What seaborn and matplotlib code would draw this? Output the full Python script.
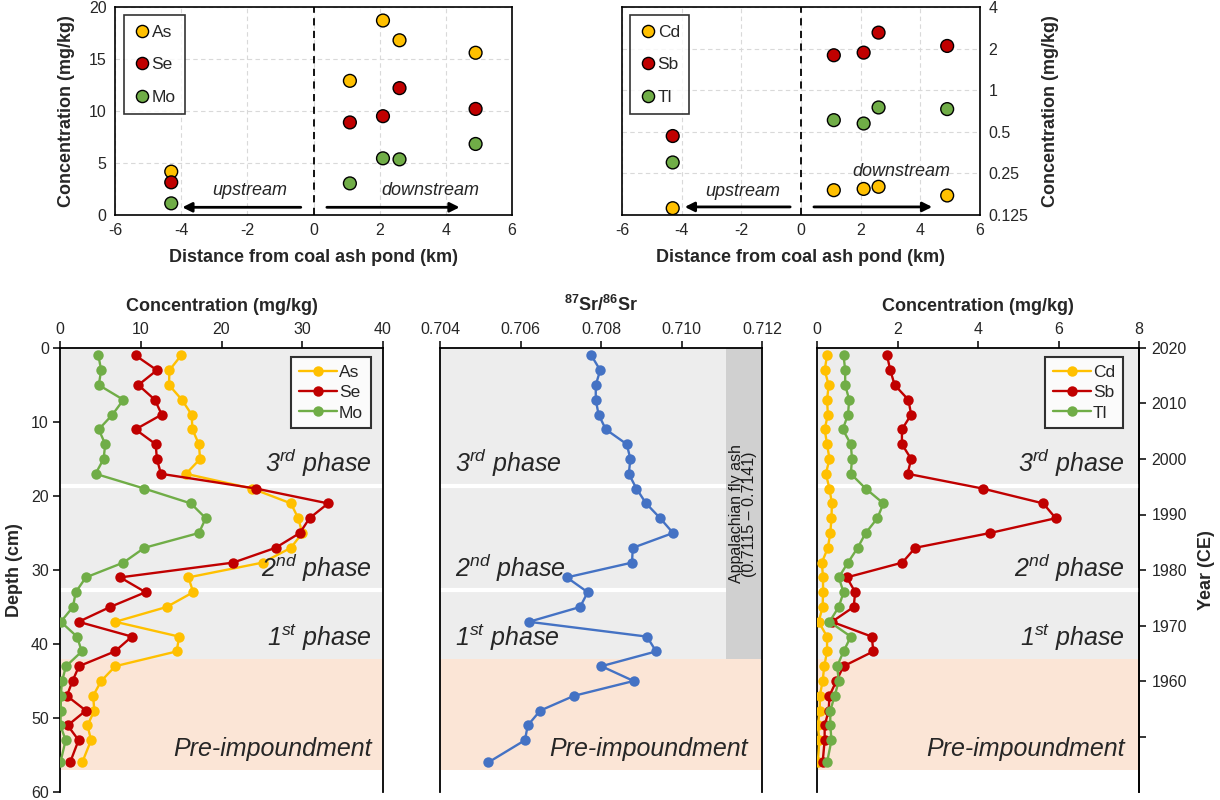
import matplotlib
matplotlib.use('Agg')
import matplotlib.pyplot as plt
import seaborn as sns
import numpy as np
import pandas as pd

sns.set_style('white')
plt.rcParams['font.family'] = ['Liberation Sans', 'DejaVu Sans']
plt.rcParams['mathtext.fontset'] = 'custom'
plt.rcParams['mathtext.rm'] = 'Liberation Sans'
plt.rcParams['mathtext.it'] = 'Liberation Sans:italic'
plt.rcParams['mathtext.bf'] = 'Liberation Sans:bold'
plt.rcParams['axes.unicode_minus'] = False

# ---------------- data ----------------
distance_km = [-4.3, 1.1, 2.1, 2.6, 4.9]
surf_as = [4.17, 12.9, 18.7, 16.8, 15.6]
surf_se = [3.14, 8.9, 9.5, 12.2, 10.2]
surf_mo = [1.12, 3.04, 5.45, 5.35, 6.83]
surf_cd = [0.140, 0.189, 0.193, 0.200, 0.173]
surf_sb = [0.466, 1.79, 1.87, 2.61, 2.09]
surf_tl = [0.30, 0.607, 0.574, 0.75, 0.73]

depth_cm = [1, 3, 5, 7, 9, 11, 13, 15, 17, 19, 21, 23, 25, 27, 29, 31, 33, 35,
            37, 39, 41, 43, 45, 47, 49, 51, 53, 56]
core_as = [15.0, 13.55, 13.5, 15.1, 16.3, 16.4, 17.2, 17.35, 15.6, 23.8,
           28.6, 29.5, 30.0, 28.6, 25.1, 15.9, 16.5, 13.2, 6.85, 14.75,
           14.45, 6.85, 5.1, 4.1, 4.25, 3.4, 3.85, 2.75]
core_se = [9.35, 12.0, 9.7, 11.75, 12.6, 9.35, 11.85, 12.0, 12.5, 24.3,
           33.2, 30.9, 29.7, 26.7, 21.45, 7.45, 10.6, 6.2, 2.3, 8.9,
           6.8, 2.35, 1.55, 0.85, 3.2, 0.95, 2.3, 1.25]
core_mo = [4.75, 5.1, 4.8, 7.85, 6.5, 4.8, 5.6, 5.4, 4.4, 10.45,
           16.2, 18.05, 17.2, 10.45, 7.85, 3.2, 1.95, 1.6, 0.1, 2.1,
           2.7, 0.75, 0.25, 0.1, 0.1, 0.05, 0.7, 0.05]
core_sr = [0.70776, 0.70798, 0.70787, 0.70787, 0.70794, 0.70812, 0.70864,
           0.70873, 0.70869, 0.70888, 0.70912, 0.70947, 0.70979, 0.70879,
           0.70877, 0.70715, 0.70767, 0.70748, 0.70621, 0.70914, 0.70937,
           0.70801, 0.70881, 0.70733, 0.70649, 0.70618, 0.70611, 0.70520]
core_cd = [0.25, 0.19, 0.29, 0.25, 0.27, 0.19, 0.25, 0.31, 0.22, 0.31,
           0.37, 0.36, 0.33, 0.27, 0.12, 0.15, 0.15, 0.14, 0.04, 0.25,
           0.25, 0.18, 0.14, 0.07, 0.07, 0.02, 0.06, 0.02]
core_sb = [1.74, 1.82, 1.93, 2.27, 2.34, 2.11, 2.11, 2.34, 2.25, 4.12,
           5.62, 5.93, 4.30, 2.44, 2.12, 0.74, 0.95, 0.91, 0.37, 1.36,
           1.40, 0.66, 0.48, 0.31, 0.29, 0.19, 0.19, 0.14]
core_tl = [0.66, 0.70, 0.70, 0.80, 0.77, 0.64, 0.84, 0.87, 0.84, 1.21,
           1.65, 1.50, 1.21, 1.01, 0.77, 0.54, 0.66, 0.54, 0.31, 0.84,
           0.66, 0.50, 0.54, 0.44, 0.33, 0.33, 0.36, 0.25]

phase_labels = ["3$^{rd}$ phase", "2$^{nd}$ phase", "1$^{st}$ phase", "Pre-impoundment"]
phase_label_depth = [15.5, 29.7, 39.2, 54.2]
year_ticks = [2020, 2010, 2000, 1990, 1980, 1970, 1960, 1950]
year_tick_labels = ['2020', '2010', '2000', '1990', '1980', '1970', '1960', '']
log_ticks = [0.125, 0.25, 0.5, 1, 2, 4]
log_tick_labels = ['0.125', '0.25', '0.5', '1', '2', '4']

C_YEL = '#FFC000'
C_RED = '#C00000'
C_GRN = '#70AD47'
C_BLU = '#4472C4'
GRAY = '#EDEDED'
PEACH = '#FBE5D6'
ASHGRAY = '#D0D0D0'

W, H = 1220, 800
fig = plt.figure(figsize=(W / 100, H / 100), dpi=100)


def px_axes(l, t, r, b):
    return fig.add_axes([l / W, 1 - b / H, (r - l) / W, (b - t) / H])


LBL = dict(fontsize=13, fontweight='bold')
TICK = 11.5

# ---------------- top panels ----------------
def style_top(ax):
    for s in ax.spines.values():
        s.set_visible(True)
        s.set_color('black')
        s.set_linewidth(1.2)
    ax.tick_params(length=0, labelsize=TICK, pad=6)
    ax.set_xlim(-6, 6)
    ax.set_xticks([-6, -4, -2, 0, 2, 4, 6])
    ax.grid(True, which='major', color='#D9D9D9', linestyle=(0, (4, 3)), linewidth=0.8)
    ax.set_axisbelow(True)
    ax.axvline(0, color='black', linestyle=(0, (4, 3)), linewidth=1.3, zorder=1)
    ax.set_xlabel('Distance from coal ash pond (km)', labelpad=8, **LBL)


def top_legend(ax):
    leg = ax.legend(loc='upper left', bbox_to_anchor=(0.022, 0.962), borderaxespad=0,
                    frameon=True, fancybox=False, edgecolor='black', fontsize=12.5,
                    labelspacing=1.0, handletextpad=0.05, borderpad=0.55, handlelength=1.0,
                    markerscale=0.95)
    leg.get_frame().set_linewidth(1.2)
    for h in leg.legend_handles:
        try:
            h.set_markeredgecolor('black')
            h.set_markeredgewidth(1.0)
        except AttributeError:
            h.set_edgecolor('black')


ax1 = px_axes(115, 7, 512, 215)
df1 = pd.DataFrame({'d': distance_km * 3,
                    'c': surf_as + surf_se + surf_mo,
                    'el': ['As'] * 5 + ['Se'] * 5 + ['Mo'] * 5})
sns.scatterplot(data=df1, x='d', y='c', hue='el', palette=[C_YEL, C_RED, C_GRN],
                s=85, edgecolor='black', linewidth=1.0, ax=ax1, zorder=3, legend=True)
style_top(ax1)
ax1.set_ylim(0, 20)
ax1.set_yticks([0, 5, 10, 15, 20])
ax1.set_ylabel('Concentration (mg/kg)', labelpad=10, **LBL)
ax1.annotate('', xy=(-4.05, 0.74), xytext=(-0.3, 0.74),
             arrowprops=dict(arrowstyle='-|>', color='black', lw=2, mutation_scale=14))
ax1.annotate('', xy=(4.5, 0.74), xytext=(0.32, 0.74),
             arrowprops=dict(arrowstyle='-|>', color='black', lw=2, mutation_scale=14))
ax1.text(-1.92, 2.4, 'upstream', style='italic', fontsize=13, ha='center', va='center')
ax1.text(3.52, 2.4, 'downstream', style='italic', fontsize=13, ha='center', va='center')
top_legend(ax1)

ax2 = px_axes(622, 7, 980, 215)
df2 = pd.DataFrame({'d': distance_km * 3,
                    'c': surf_cd + surf_sb + surf_tl,
                    'el': ['Cd'] * 5 + ['Sb'] * 5 + ['Tl'] * 5})
sns.scatterplot(data=df2, x='d', y='c', hue='el', palette=[C_YEL, C_RED, C_GRN],
                s=85, edgecolor='black', linewidth=1.0, ax=ax2, zorder=3, legend=True)
ax2.set_yscale('log', base=2)
style_top(ax2)
ax2.set_ylim(0.125, 4)
ax2.set_yticks(log_ticks)
ax2.set_yticklabels(log_tick_labels)
ax2.minorticks_off()
ax2.yaxis.tick_right()
ax2.yaxis.set_label_position('right')
ax2.set_ylabel('Concentration (mg/kg)', labelpad=10, **LBL)
ax2.annotate('', xy=(-3.99, 0.143), xytext=(-0.27, 0.143),
             arrowprops=dict(arrowstyle='-|>', color='black', lw=2, mutation_scale=14))
ax2.annotate('', xy=(4.49, 0.143), xytext=(0.34, 0.143),
             arrowprops=dict(arrowstyle='-|>', color='black', lw=2, mutation_scale=14))
ax2.text(-1.94, 0.185, 'upstream', style='italic', fontsize=13, ha='center', va='center')
ax2.text(3.38, 0.26, 'downstream', style='italic', fontsize=13, ha='center', va='center')
top_legend(ax2)

# ---------------- bottom panels ----------------
def style_bottom(ax):
    ax.set_ylim(60, 0)
    ax.xaxis.tick_top()
    ax.xaxis.set_label_position('top')
    for k, s in ax.spines.items():
        s.set_color('black')
        s.set_linewidth(1.3)
    ax.spines['bottom'].set_visible(False)
    ax.spines['top'].set_visible(True)
    ax.spines['left'].set_visible(True)
    ax.spines['right'].set_visible(True)
    ax.tick_params(axis='x', top=True, bottom=False, direction='out', length=5,
                   width=1.3, labelsize=TICK, pad=3)
    ax.axhspan(0, 42, color=GRAY, lw=0, zorder=0)
    ax.axhspan(42, 57, color=PEACH, lw=0, zorder=0)
    for yb in (18.6, 32.7):
        ax.axhline(yb, color='white', lw=3, zorder=0.5)
    ax.grid(False)


def profile(ax, vals, color, label):
    sns.lineplot(x=vals, y=depth_cm, sort=False, estimator=None, ax=ax, color=color,
                 marker='o', markersize=7.5, markeredgewidth=0, linewidth=1.7,
                 label=label, zorder=3)


def bottom_legend(ax, anchor_x):
    leg = ax.legend(loc='upper right', bbox_to_anchor=(anchor_x, 0.98), borderaxespad=0,
                    frameon=True, fancybox=False, edgecolor='black', fontsize=12.5,
                    labelspacing=0.3, handletextpad=0.1, borderpad=0.45, handlelength=2.2)
    leg.get_frame().set_linewidth(1.5)


# left
ax3 = px_axes(60, 348, 383, 792)
profile(ax3, core_as, C_YEL, 'As')
profile(ax3, core_se, C_RED, 'Se')
profile(ax3, core_mo, C_GRN, 'Mo')
style_bottom(ax3)
ax3.set_xlim(0, 40)
ax3.set_xticks([0, 10, 20, 30, 40])
ax3.set_yticks([0, 10, 20, 30, 40, 50, 60])
ax3.tick_params(axis='y', left=True, direction='out', length=5, width=1.3,
                labelsize=TICK, pad=3)
ax3.set_xlabel('Concentration (mg/kg)', labelpad=8, **LBL)
ax3.set_ylabel('Depth (cm)', labelpad=6, **LBL)
for lab, yd in zip(phase_labels, phase_label_depth):
    ax3.text(38.6, yd, lab, ha='right', va='center', style='italic', fontsize=18, zorder=4)
bottom_legend(ax3, 0.963)

# middle
ax4 = px_axes(440, 348, 762, 792)
profile(ax4, core_sr, C_BLU, None)
style_bottom(ax4)
ax4.set_xlim(0.704, 0.712)
ax4.set_xticks([0.704, 0.706, 0.708, 0.710, 0.712])
ax4.set_xticklabels(['%.3f' % v for v in [0.704, 0.706, 0.708, 0.710, 0.712]])
ax4.set_yticks([])
ax4.set_ylabel('')
ax4.axvspan(0.7111, 0.712, ymin=1 - 42 / 60, ymax=1, color=ASHGRAY, lw=0, zorder=1)
ax4.text(0.71153, 22.4, 'Appalachian fly ash\n(0.7115 \u2013 0.7141)', rotation=90,
         ha='center', va='center', fontsize=11.5, linespacing=0.9, zorder=4,
         color='#1a1a1a')
ax4.set_xlabel(r'$^{\mathbf{87}}$Sr/$^{\mathbf{86}}$Sr', labelpad=8, **LBL)
for lab, yd in zip(phase_labels[:3], phase_label_depth[:3]):
    ax4.text(0.70437, yd, lab, ha='left', va='center', style='italic', fontsize=18, zorder=4)
ax4.text(0.71165, phase_label_depth[3], phase_labels[3], ha='right', va='center',
         style='italic', fontsize=18, zorder=4)
if ax4.get_legend() is not None:
    ax4.get_legend().remove()

# right
ax5 = px_axes(817, 348, 1139, 792)
profile(ax5, core_cd, C_YEL, 'Cd')
profile(ax5, core_sb, C_RED, 'Sb')
profile(ax5, core_tl, C_GRN, 'Tl')
style_bottom(ax5)
ax5.set_xlim(0, 8)
ax5.set_xticks([0, 2, 4, 6, 8])
ax5.set_yticks([])
ax5.set_ylabel('')
ax5.set_xlabel('Concentration (mg/kg)', labelpad=8, **LBL)
for lab, yd in zip(phase_labels, phase_label_depth):
    ax5.text(7.65, yd, lab, ha='right', va='center', style='italic', fontsize=18, zorder=4)
bottom_legend(ax5, 0.95)

sec = ax5.secondary_yaxis('right', functions=(lambda d: 2020 - np.asarray(d) / 0.75,
                                              lambda y: (2020 - np.asarray(y)) * 0.75))
sec.set_yticks(year_ticks)
sec.set_yticklabels(year_tick_labels)
sec.tick_params(direction='out', length=5, width=1.3, labelsize=TICK, pad=4)
sec.spines['right'].set_linewidth(1.3)
sec.set_ylabel('Year (CE)', labelpad=8, **LBL)

fig.savefig('out.png', dpi=100)
